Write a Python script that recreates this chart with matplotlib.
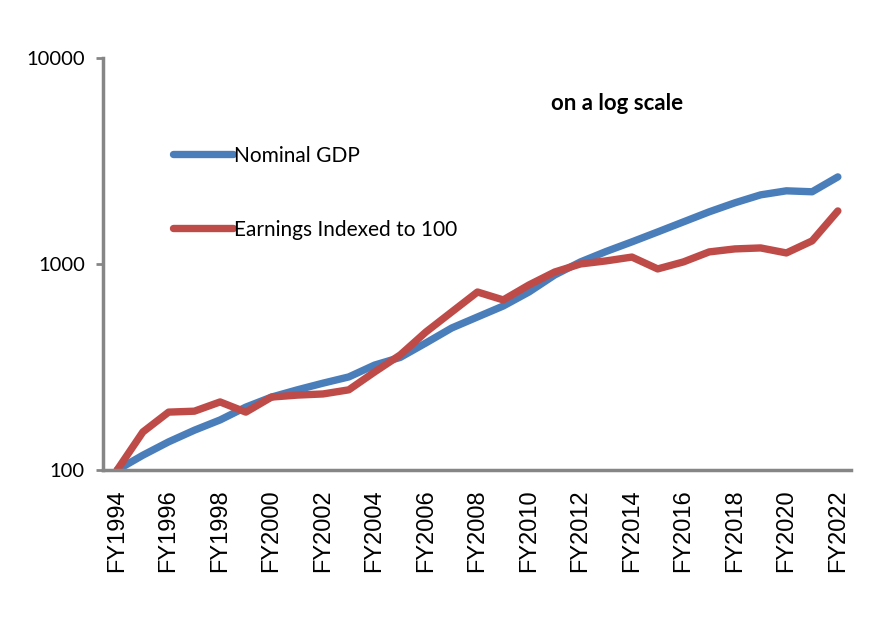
import matplotlib
matplotlib.use('Agg')
import matplotlib.pyplot as plt
from matplotlib.ticker import FixedLocator, NullLocator

# data (index, FY1994 = 100)
years = ['FY%d' % y for y in range(1994, 2023)]
gdp = [100, 118, 137, 156, 175, 202, 226, 245, 264, 283, 323, 352, 414, 489, 553,
       625, 731, 884, 1023, 1150, 1280, 1430, 1600, 1790, 1980, 2164, 2264, 2240, 2645]
earnings = [100, 153, 191, 193, 214, 191, 226, 231, 234, 245, 299, 362, 468, 585, 731,
            669, 791, 914, 1000, 1035, 1080, 946, 1023, 1144, 1183, 1196, 1131, 1294, 1808]
ytick_vals = [100, 1000, 10000]

blue = '#4A7EBB'
red = '#BE4B48'
grey = '#868686'

fig = plt.figure(figsize=(8.87, 6.17), dpi=100)
ax = fig.add_axes([0.1161, 0.2382, 0.843, 0.668])

x = list(range(len(years)))
ax.plot(x, gdp, color=blue, lw=5.3, solid_capstyle='round', solid_joinstyle='round',
        label='Nominal GDP')
ax.plot(x, earnings, color=red, lw=5.3, solid_capstyle='round', solid_joinstyle='round',
        label='Earnings Indexed to 100')

ax.set_yscale('log')
ax.set_ylim(100, 10000)
ax.set_xlim(-0.55, len(years) - 0.5)
ax.yaxis.set_major_locator(FixedLocator(ytick_vals))
ax.yaxis.set_minor_locator(NullLocator())
ax.set_yticklabels([str(v) for v in ytick_vals], family='Lato', fontsize=14.5)

ax.set_xticks(x[::2])
ax.set_xticklabels(years[::2], rotation=90, family='Liberation Sans', fontsize=17)
ax.tick_params(axis='x', length=0, pad=14)
ax.tick_params(axis='y', length=5, width=2, color=grey, pad=8, direction='out')

for s in ['top', 'right']:
    ax.spines[s].set_visible(False)
for s in ['left', 'bottom']:
    ax.spines[s].set_color(grey)
    ax.spines[s].set_linewidth(2.5)

leg = ax.legend(loc='upper left', bbox_to_anchor=(0.1945, 0.764), bbox_transform=fig.transFigure,
                frameon=False, prop={'family': 'Lato', 'size': 15}, handlelength=2.9,
                handletextpad=0.05, labelspacing=2.6, borderpad=0, borderaxespad=0)

fig.text(0.696, 0.833, 'on a log scale', family='Lato', fontsize=16, fontweight='bold',
         ha='center', va='center')

fig.savefig('out.png', dpi=100)
